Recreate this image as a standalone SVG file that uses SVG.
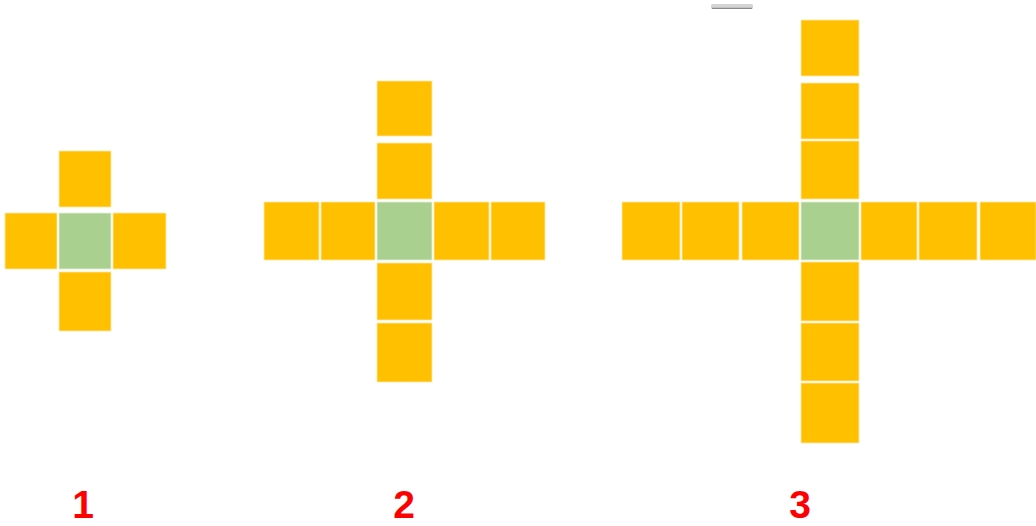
<svg xmlns="http://www.w3.org/2000/svg" width="1036" height="526" viewBox="0 0 1036 526">
<style>
.o{fill:#FFC000;stroke:#FFE9A8;stroke-width:0.8}
.g{fill:#A9D08E;stroke:#E4F0DA;stroke-width:0.8}
.lbl{font-family:"Liberation Sans",Arial,sans-serif;font-weight:bold;font-size:39px;fill:#FF0000;text-anchor:middle}
</style>
<rect width="1036" height="526" fill="#ffffff"/>
<rect x="711" y="4" width="42" height="5" rx="1.5" fill="#d4d4d4"/>
<line x1="712" y1="8.3" x2="752" y2="8.3" stroke="#8a8a8a" stroke-width="1.2"/>
<g id="figure1">
<rect class="o" x="59" y="151" width="52" height="56"/>
<rect class="o" x="5" y="213" width="52" height="56"/>
<rect class="g" x="59" y="213" width="52" height="56"/>
<rect class="o" x="113" y="213" width="53" height="56"/>
<rect class="o" x="59" y="272" width="52" height="59"/>
</g>
<g id="figure2">
<rect class="o" x="377" y="81" width="55" height="55"/>
<rect class="o" x="377" y="143" width="55" height="56"/>
<rect class="o" x="264" y="202" width="55" height="58"/>
<rect class="o" x="321" y="202" width="54" height="58"/>
<rect class="g" x="377" y="202" width="55" height="58"/>
<rect class="o" x="434" y="202" width="55" height="58"/>
<rect class="o" x="491" y="202" width="54" height="58"/>
<rect class="o" x="377" y="263" width="55" height="57"/>
<rect class="o" x="377" y="323" width="55" height="59"/>
</g>
<g id="figure3">
<rect class="o" x="801" y="20" width="58" height="56"/>
<rect class="o" x="801" y="83" width="58" height="56"/>
<rect class="o" x="801" y="141" width="58" height="58"/>
<rect class="o" x="622" y="202" width="58" height="58"/>
<rect class="o" x="682" y="202" width="57" height="58"/>
<rect class="o" x="742" y="202" width="57" height="58"/>
<rect class="g" x="801" y="202" width="58" height="58"/>
<rect class="o" x="861" y="202" width="56" height="58"/>
<rect class="o" x="919" y="202" width="58" height="58"/>
<rect class="o" x="980" y="202" width="56" height="58"/>
<rect class="o" x="801" y="262" width="58" height="59"/>
<rect class="o" x="801" y="323" width="58" height="58"/>
<rect class="o" x="801" y="383" width="58" height="60"/>
</g>
<g id="labels">
<text class="lbl" x="83" y="518">1</text>
<text class="lbl" x="404" y="518">2</text>
<text class="lbl" x="800" y="518">3</text>
</g>
</svg>
